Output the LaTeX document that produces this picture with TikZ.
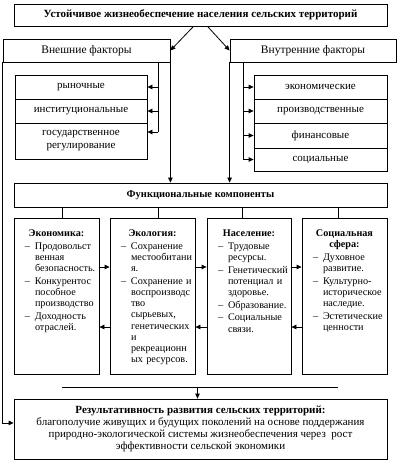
\documentclass[tikz,border=0pt]{standalone}
\usepackage{fontspec}
\setmainfont{Liberation Serif}
\usetikzlibrary{arrows.meta,calc}
\newcommand\itm[1]{\par\vspace{1.5pt}\hangindent=19pt\hangafter=1\noindent\hspace*{9pt}\makebox[10pt][l]{–}#1\par}
\begin{document}
\begin{tikzpicture}[x=1pt,y=-1pt,
  bx/.style={draw, line width=0.8pt, inner sep=0pt, align=center},
  ctext/.style={anchor=north, inner sep=0pt, text width=81pt, font=\fontsize{10.2}{11.2}\selectfont},
  arr/.style={line width=0.8pt, -{Triangle[length=5pt,width=4.5pt]}},
  ln/.style={line width=0.8pt}]
\useasboundingbox (0,0) rectangle (402,462);
% top
\node[bx, minimum width=373pt, minimum height=22pt, font=\fontsize{11}{13}\selectfont\bfseries] (top) at (200.5,15) {Устойчивое жизнеобеспечение населения сельских территорий};
% headers
\node[bx, minimum width=167pt, minimum height=23pt, font=\fontsize{11.5}{13}\selectfont] (lh) at (86.5,50.5) {Внешние факторы};
\node[bx, minimum width=166pt, minimum height=23pt, font=\fontsize{11.5}{13}\selectfont] (rh) at (313,50.5) {Внутренние факторы};
\draw[arr] ([xshift=-7pt]top.south) -- (lh.east);
\draw[arr] ([xshift=7pt]top.south) -- (rh.west);
% left factors
\tikzset{fb/.style={bx, minimum width=132pt, font=\fontsize{11}{13}\selectfont}}
\node[fb, minimum height=24pt] (l1) at (81,87) {рыночные};
\node[fb, minimum height=24pt] (l2) at (81,111) {институциональные};
\node[fb, minimum height=36pt] (l3) at (81,141) {государственное\\регулирование};
\coordinate (LL) at (158,62);
\draw[ln] (LL) -- (LL |- 0,132);
\draw[arr] (LL |- l1.east) -- (l1.east);
\draw[arr] (LL |- l2.east) -- (l2.east);
\draw[arr] (LL |- 0,132) -- (l3.east |- 0,132);
% right factors
\tikzset{rb/.style={bx, minimum width=133pt, font=\fontsize{11}{13}\selectfont}}
\node[rb, minimum height=24pt] (r1) at (320.5,87) {экономические};
\node[rb, minimum height=24pt] (r2) at (320.5,111) {производственные};
\node[rb, minimum height=25pt] (r3) at (320.5,135.5) {финансовые};
\node[rb, minimum height=23pt] (r4) at (320.5,159.5) {социальные};
\coordinate (RL) at (243,62);
\draw[ln] (RL) -- (RL |- r4.west);
\draw[arr] (RL |- r1.west) -- (r1.west);
\draw[arr] (RL |- r2.west) -- (r2.west);
\draw[arr] (RL |- r3.west) -- (r3.west);
\draw[arr] (RL |- r4.west) -- (r4.west);
% functional components
\node[bx, minimum width=373pt, minimum height=24pt, font=\fontsize{10.5}{13}\selectfont\bfseries] (func) at (200.5,195) {Функциональные компоненты};
\draw[arr] (lh.south east) -- (lh.south east |- func.north);
\draw[arr] (rh.south west) -- (rh.south west |- func.north);
% component boxes
\node[draw, line width=0.8pt, minimum width=85pt, minimum height=156pt, inner sep=0pt] (c1) at (56.5,296) {};
\node[draw, line width=0.8pt, minimum width=85pt, minimum height=156pt, inner sep=0pt] (c2) at (152.5,296) {};
\node[draw, line width=0.8pt, minimum width=84pt, minimum height=156pt, inner sep=0pt] (c3) at (249,296) {};
\node[draw, line width=0.8pt, minimum width=85pt, minimum height=156pt, inner sep=0pt] (c4) at (344.5,296) {};
\node[ctext] (c1t) at ([yshift=-12pt]c1.north) {{\centering\textbf{Экономика:}\par}\raggedright
\itm{Продовольст\newline венная\newline безопасность.}
\itm{Конкурентос\newline пособное\newline производство}
\itm{Доходность\newline отраслей.}};
\node[ctext] (c2t) at ([yshift=-12pt]c2.north) {{\centering\textbf{Экология:}\par}\raggedright
\itm{Сохранение\newline местообитани\newline я.}
\itm{Сохранение~и\newline воспроизводс\newline тво\newline сырьевых,\newline генетических\newline и\newline рекреационн\newline ых~ресурсов.}};
\node[ctext, text width=80pt] (c3t) at ([yshift=-12pt]c3.north) {{\centering\textbf{Население:}\par}\raggedright
\itm{Трудовые\newline ресурсы.}
\itm{Генетический\newline потенциал~и\newline здоровье.}
\itm{Образование.}
\itm{Социальные\newline связи.}};
\node[ctext] (c4t) at ([yshift=-12pt]c4.north) {{\centering\textbf{Социальная\\сфера:}\par}\raggedright
\itm{Духовное\newline развитие.}
\itm{Культурно-\newline историческое\newline наследие.}
\itm{Эстетические\newline ценности}};
% connectors func -> components
\foreach \c/\x in {c1/62,c2/158,c3/242,c4/338}{
  \draw[ln] (func.south -| \x,0) -- (\c.north -| \x,0);
  \draw[ln] (\c.south -| \x,0) -- (\c.south -| \x,387);
}
\coordinate (BL) at (62,387);
\coordinate (BR) at (338,387);
\draw[ln] (BL) -- (BR);
% inter-component arrows
\draw[arr] (c1.east |- 0,267) -- (c2.west |- 0,267);
\draw[arr] (c2.east |- 0,267) -- (c3.west |- 0,267);
\draw[arr] (c3.east |- 0,267) -- (c4.west |- 0,267);
\draw[arr] (c2.west |- 0,327) -- (c1.east |- 0,327);
\draw[arr] (c3.west |- 0,327) -- (c2.east |- 0,327);
\draw[arr] (c4.west |- 0,327) -- (c3.east |- 0,327);
% result
\node[bx, minimum width=373pt, minimum height=60pt, font=\fontsize{11}{12.2}\selectfont] (res) at (200.5,429) {\textbf{Результативность развития сельских территорий:}\\благополучие живущих и будущих поколений на основе поддержания\\природно-экологической системы жизнеобеспечения через~ рост\\эффективности сельской экономики};
\draw[arr] ([xshift=-3pt]res.north |- BL) -- ([xshift=-3pt]res.north);
\draw[arr] (lh.south west) |- ($(res.north west)!0.4!(res.south west)$);
\end{tikzpicture}
\end{document}
